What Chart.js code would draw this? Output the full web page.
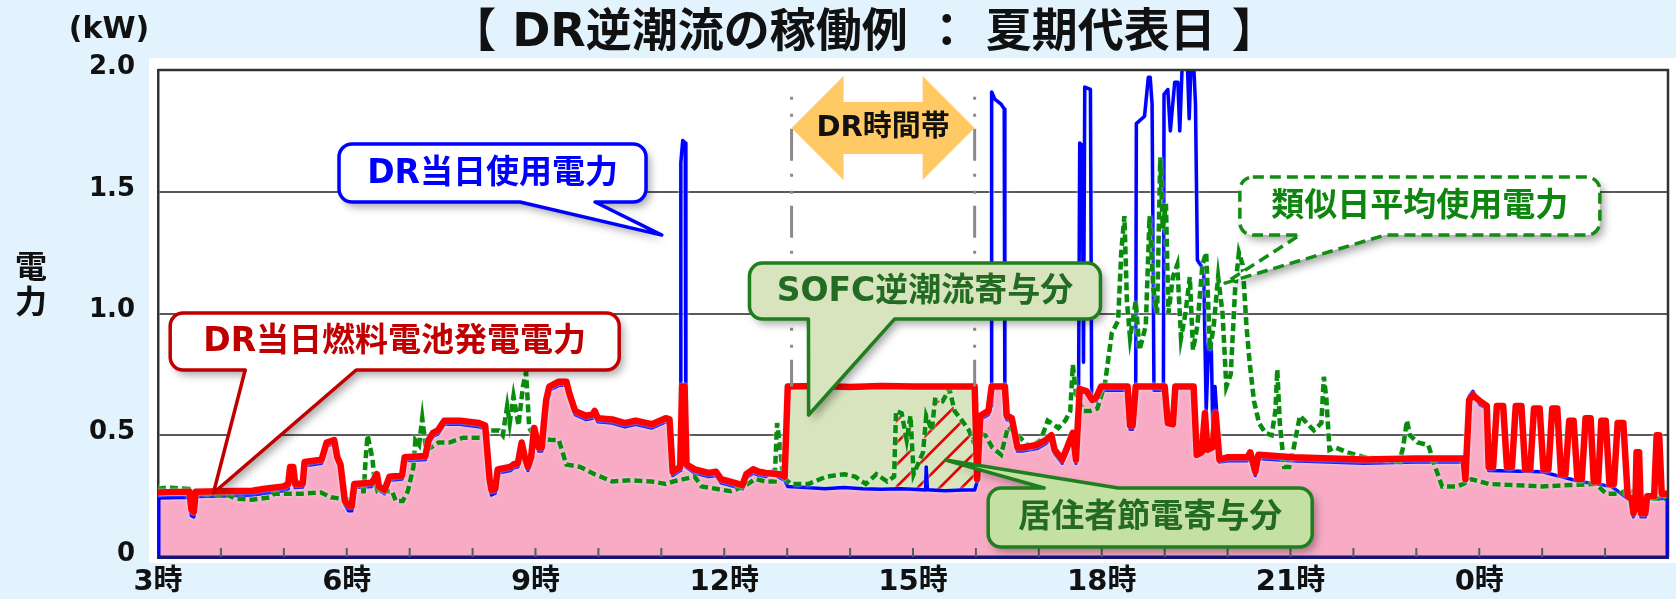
<!DOCTYPE html>
<html><head><meta charset="utf-8">
<script src="https://cdn.jsdelivr.net/npm/chart.js@4.4.1/dist/chart.umd.min.js"></script>
<style>html,body{margin:0;padding:0;background:#e2f3fd;}canvas{display:block;}</style>
</head><body>
<canvas id="c" width="1676" height="599"></canvas>
<script>
const FF = '"DejaVu Sans", "Noto Sans CJK JP", sans-serif';

// ---- data (hour of day, kW); hours after 24 are the following morning ----
const yTickValues = [0, 0.5, 1.0, 1.5, 2.0];
const xRange = [3, 27];
const drLines = [13.07, 15.98];      // DR時間帯 markers
const drFillRange = [13.0, 16.0];    // SOFC逆潮流寄与分
const hatchRange = [14.72, 16.0];    // 居住者節電寄与分

const red = [[3.00,0.265],[3.50,0.268],[3.53,0.195],[3.57,0.186],[3.60,0.268],[4.00,0.27],[4.50,0.272],[4.70,0.28],[5.00,0.29],[5.07,0.30],[5.10,0.37],[5.15,0.37],[5.18,0.30],[5.30,0.302],[5.33,0.39],[5.60,0.40],[5.68,0.47],[5.80,0.48],[5.85,0.41],[5.90,0.38],[5.97,0.23],[6.03,0.21],[6.08,0.21],[6.12,0.30],[6.40,0.305],[6.48,0.34],[6.51,0.29],[6.60,0.275],[6.68,0.33],[6.88,0.335],[6.92,0.41],[7.25,0.415],[7.30,0.48],[7.37,0.51],[7.45,0.52],[7.55,0.56],[7.80,0.56],[8.10,0.55],[8.20,0.54],[8.27,0.32],[8.30,0.275],[8.36,0.28],[8.40,0.36],[8.60,0.37],[8.65,0.38],[8.72,0.385],[8.78,0.47],[8.83,0.41],[8.88,0.37],[8.93,0.41],[8.98,0.53],[9.05,0.45],[9.10,0.45],[9.13,0.54],[9.17,0.645],[9.22,0.70],[9.37,0.72],[9.49,0.72],[9.54,0.67],[9.63,0.60],[9.71,0.59],[9.80,0.58],[9.91,0.585],[9.94,0.60],[9.99,0.57],[10.22,0.565],[10.42,0.55],[10.59,0.56],[10.85,0.545],[11.07,0.57],[11.13,0.565],[11.18,0.35],[11.30,0.37],[11.33,0.70],[11.37,0.70],[11.40,0.38],[11.53,0.36],[11.75,0.345],[11.87,0.35],[11.95,0.32],[12.15,0.305],[12.29,0.295],[12.35,0.34],[12.46,0.36],[12.55,0.35],[12.66,0.345],[12.89,0.34],[12.96,0.33],[13.01,0.70],[13.5,0.702],[14.0,0.698],[14.5,0.702],[15.0,0.70],[15.5,0.70],[15.98,0.70],[16.02,0.32],[16.07,0.58],[16.20,0.60],[16.25,0.70],[16.46,0.70],[16.49,0.58],[16.57,0.57],[16.66,0.45],[16.74,0.45],[16.97,0.46],[17.11,0.48],[17.20,0.50],[17.25,0.44],[17.37,0.40],[17.45,0.45],[17.54,0.51],[17.59,0.40],[17.65,0.69],[17.76,0.68],[17.85,0.645],[17.91,0.655],[17.99,0.70],[18.41,0.70],[18.45,0.54],[18.49,0.54],[18.54,0.70],[19.00,0.70],[19.05,0.55],[19.13,0.545],[19.17,0.70],[19.46,0.70],[19.51,0.42],[19.59,0.43],[19.64,0.59],[19.68,0.44],[19.76,0.45],[19.81,0.59],[19.87,0.40],[20.01,0.41],[20.32,0.41],[20.36,0.43],[20.44,0.35],[20.49,0.42],[21.03,0.41],[22.17,0.40],[23.00,0.405],[23.75,0.405],[23.78,0.32],[23.84,0.645],[23.90,0.665],[24.01,0.64],[24.12,0.62],[24.15,0.37],[24.22,0.37],[24.28,0.62],[24.38,0.62],[24.44,0.37],[24.52,0.37],[24.58,0.62],[24.67,0.62],[24.73,0.36],[24.81,0.36],[24.87,0.61],[24.96,0.61],[25.02,0.36],[25.10,0.36],[25.16,0.61],[25.24,0.61],[25.30,0.34],[25.37,0.34],[25.43,0.56],[25.50,0.56],[25.56,0.32],[25.63,0.32],[25.69,0.57],[25.77,0.57],[25.82,0.31],[25.89,0.31],[25.94,0.56],[26.01,0.56],[26.07,0.30],[26.14,0.30],[26.20,0.55],[26.29,0.55],[26.36,0.25],[26.42,0.24],[26.45,0.18],[26.48,0.20],[26.50,0.43],[26.54,0.43],[26.57,0.18],[26.64,0.18],[26.67,0.25],[26.78,0.25],[26.82,0.50],[26.86,0.50],[26.90,0.26],[27.00,0.26]];

const blue = [[3.00,0.242],[3.50,0.245],[3.53,0.17],[3.57,0.165],[3.60,0.248],[4.00,0.25],[4.50,0.255],[4.70,0.262],[5.00,0.272],[5.07,0.28],[5.10,0.355],[5.15,0.355],[5.18,0.285],[5.30,0.287],[5.33,0.375],[5.60,0.385],[5.68,0.455],[5.80,0.465],[5.85,0.395],[5.90,0.365],[5.97,0.215],[6.03,0.19],[6.08,0.19],[6.12,0.285],[6.40,0.29],[6.48,0.325],[6.51,0.275],[6.60,0.26],[6.68,0.315],[6.88,0.32],[6.92,0.395],[7.25,0.40],[7.30,0.465],[7.37,0.495],[7.45,0.505],[7.55,0.545],[7.80,0.545],[8.10,0.535],[8.20,0.525],[8.27,0.305],[8.30,0.255],[8.36,0.262],[8.40,0.345],[8.60,0.355],[8.65,0.365],[8.72,0.37],[8.78,0.455],[8.83,0.395],[8.88,0.355],[8.93,0.395],[8.98,0.515],[9.05,0.435],[9.10,0.435],[9.13,0.525],[9.17,0.63],[9.22,0.685],[9.37,0.705],[9.49,0.705],[9.54,0.655],[9.63,0.585],[9.71,0.575],[9.80,0.565],[9.91,0.57],[9.94,0.585],[9.99,0.555],[10.22,0.55],[10.42,0.535],[10.59,0.545],[10.85,0.53],[11.07,0.555],[11.13,0.55],[11.18,0.335],[11.30,0.355],[11.31,1.62],[11.34,1.71],[11.38,1.70],[11.39,0.37],[11.53,0.345],[11.75,0.33],[11.87,0.335],[11.95,0.305],[12.15,0.29],[12.29,0.28],[12.35,0.325],[12.46,0.345],[12.55,0.335],[12.66,0.33],[12.80,0.36],[12.85,0.33],[12.89,0.325],[12.96,0.315],[13.01,0.29],[13.30,0.285],[13.60,0.28],[13.90,0.285],[14.20,0.28],[14.50,0.278],[14.80,0.28],[15.00,0.278],[15.20,0.275],[15.21,0.37],[15.23,0.276],[15.50,0.272],[15.80,0.275],[15.98,0.275],[16.02,0.31],[16.07,0.565],[16.20,0.585],[16.24,0.62],[16.25,1.91],[16.30,1.88],[16.40,1.86],[16.45,1.84],[16.46,0.59],[16.49,0.565],[16.57,0.555],[16.66,0.435],[16.74,0.435],[16.97,0.445],[17.11,0.465],[17.20,0.485],[17.25,0.425],[17.37,0.385],[17.45,0.435],[17.54,0.495],[17.59,0.385],[17.63,0.60],[17.65,1.70],[17.69,1.69],[17.71,0.80],[17.73,1.93],[17.82,1.92],[17.84,0.66],[17.91,0.64],[17.99,0.685],[18.41,0.685],[18.45,0.525],[18.49,0.525],[18.54,0.685],[18.55,1.78],[18.68,1.81],[18.74,1.97],[18.77,1.97],[18.80,1.86],[18.83,0.685],[18.98,0.685],[18.99,1.90],[19.05,1.92],[19.09,1.75],[19.16,1.95],[19.21,1.95],[19.24,1.75],[19.28,2.03],[19.36,2.03],[19.39,1.80],[19.42,2.03],[19.46,2.03],[19.49,1.86],[19.52,1.22],[19.62,1.18],[19.66,0.60],[19.70,0.88],[19.74,0.88],[19.77,0.45],[19.80,0.70],[19.83,0.58],[19.87,0.39],[20.01,0.395],[20.32,0.395],[20.36,0.41],[20.44,0.335],[20.49,0.405],[21.03,0.395],[22.17,0.385],[23.00,0.39],[23.75,0.39],[23.78,0.305],[23.84,0.66],[23.90,0.68],[24.01,0.625],[24.12,0.61],[24.15,0.355],[25.00,0.35],[25.30,0.33],[25.60,0.31],[26.10,0.29],[26.36,0.24],[26.42,0.23],[26.45,0.165],[26.48,0.19],[26.50,0.24],[26.54,0.24],[26.57,0.165],[26.64,0.165],[26.67,0.24],[27.00,0.24]];

const green = [[3.00,0.28],[3.15,0.285],[3.49,0.28],[3.55,0.255],[3.66,0.26],[4.11,0.255],[4.23,0.24],[4.50,0.235],[4.79,0.245],[4.85,0.26],[5.30,0.26],[5.59,0.265],[5.75,0.245],[6.04,0.235],[6.10,0.27],[6.27,0.27],[6.30,0.40],[6.33,0.50],[6.38,0.44],[6.41,0.40],[6.44,0.32],[6.49,0.27],[6.72,0.27],[6.78,0.23],[6.89,0.23],[6.97,0.27],[7.06,0.37],[7.09,0.48],[7.15,0.46],[7.20,0.57],[7.26,0.44],[7.34,0.45],[7.46,0.47],[7.63,0.47],[7.85,0.49],[8.19,0.49],[8.25,0.52],[8.42,0.52],[8.48,0.50],[8.55,0.62],[8.59,0.55],[8.65,0.66],[8.73,0.54],[8.80,0.70],[8.85,0.76],[8.90,0.53],[8.99,0.49],[9.27,0.48],[9.37,0.48],[9.43,0.43],[9.49,0.38],[9.71,0.37],[9.94,0.34],[10.22,0.31],[10.51,0.315],[10.85,0.31],[11.07,0.30],[11.19,0.31],[11.53,0.33],[11.64,0.29],[11.87,0.28],[12.10,0.27],[12.32,0.29],[12.49,0.32],[12.66,0.31],[12.80,0.31],[12.84,0.55],[12.89,0.45],[12.93,0.33],[13.06,0.30],[13.34,0.30],[13.62,0.33],[13.91,0.34],[14.08,0.33],[14.25,0.30],[14.42,0.34],[14.59,0.31],[14.70,0.33],[14.73,0.60],[14.82,0.59],[14.90,0.48],[14.96,0.58],[15.01,0.34],[15.16,0.43],[15.21,0.58],[15.30,0.52],[15.35,0.645],[15.47,0.64],[15.58,0.69],[15.66,0.60],[15.78,0.56],[15.89,0.52],[15.95,0.48],[16.03,0.51],[16.15,0.50],[16.26,0.45],[16.40,0.42],[16.51,0.535],[16.63,0.51],[16.74,0.48],[16.86,0.45],[17.03,0.48],[17.14,0.56],[17.31,0.53],[17.42,0.56],[17.50,0.60],[17.54,0.79],[17.59,0.67],[17.71,0.60],[17.82,0.60],[17.93,0.61],[18.05,0.71],[18.16,0.92],[18.26,0.97],[18.31,1.25],[18.36,1.40],[18.40,1.05],[18.45,0.90],[18.54,1.05],[18.60,0.85],[18.70,0.95],[18.76,1.40],[18.82,1.10],[18.88,1.00],[18.93,1.64],[18.97,1.35],[19.02,1.45],[19.06,1.00],[19.13,1.15],[19.20,1.20],[19.26,0.90],[19.33,1.00],[19.40,1.15],[19.45,0.85],[19.52,0.95],[19.60,1.20],[19.66,1.25],[19.72,0.85],[19.78,0.95],[19.85,1.15],[19.92,1.00],[19.98,0.70],[20.05,0.75],[20.12,1.10],[20.18,1.25],[20.24,1.20],[20.30,0.95],[20.35,0.80],[20.42,0.64],[20.50,0.55],[20.60,0.51],[20.70,0.50],[20.76,0.60],[20.79,0.77],[20.83,0.55],[20.90,0.37],[20.98,0.37],[21.03,0.42],[21.15,0.58],[21.26,0.55],[21.37,0.52],[21.49,0.55],[21.53,0.74],[21.57,0.65],[21.62,0.44],[21.71,0.45],[21.90,0.43],[22.17,0.41],[22.50,0.40],[22.73,0.39],[22.79,0.45],[22.85,0.56],[22.90,0.50],[23.02,0.47],[23.19,0.46],[23.30,0.37],[23.41,0.29],[23.64,0.29],[23.75,0.30],[23.87,0.32],[24.15,0.30],[25.00,0.29],[25.85,0.30],[26.02,0.26],[26.25,0.26],[26.36,0.28],[26.59,0.24],[27.00,0.24]];

// annotation texts
const titleText = '【 DR逆潮流の稼働例 ： 夏期代表日 】';
const unitText = '(kW)';
const yAxisTitle = ['電', '力'];
const drLabel = 'DR時間帯';
const callouts = [
  { text: 'DR当日使用電力', at: [8.317, 1.577], w: 307, h: 58, side: 'bottom', a: 181, b: 256, tip: [11.008, 1.322], stroke: '#0000ff', fill: '#ffffff', color: '#0000ff' },
  { text: 'DR当日燃料電池発電電力', at: [6.762, 0.885], w: 449, h: 57, side: 'bottom', a: 75, b: 186, tip: [3.881, 0.263], stroke: '#c00000', fill: '#ffffff', color: '#c00000' },
  { text: 'SOFC逆潮流寄与分', at: [15.19, 1.092], w: 351, h: 56, side: 'bottom', a: 59, b: 145, tip: [13.341, 0.583], stroke: '#1f7f1f', fill: '#d7e4bd', color: '#236b23' },
  { text: '類似日平均使用電力', at: [23.056, 1.441], w: 360, h: 58, side: 'bottom', a: 60, b: 145, tip: [19.96, 1.125], stroke: '#138c13', fill: '#ffffff', color: '#0e850e', dashed: true },
  { text: '居住者節電寄与分', at: [18.77, 0.162], w: 324, h: 59, side: 'top', a: 56, b: 130, tip: [15.516, 0.398], stroke: '#1f7f1f', fill: '#c5e0a3', color: '#236b23' }
];

const PINK = '#f9abc5', SOFC = '#d7e4bd';

function ptsOf(chart, i) { return chart.getDatasetMeta(i).data.map(p => [p.x, p.y]); }
function areaClip(ctx, pts, edgeY) {
  ctx.beginPath();
  ctx.moveTo(pts[0][0], edgeY);
  for (const [x, y] of pts) ctx.lineTo(x, y);
  ctx.lineTo(pts[pts.length - 1][0], edgeY);
  ctx.closePath();
  ctx.clip();
}
function rectClip(ctx, x0, y0, x1, y1) { ctx.beginPath(); ctx.rect(x0, y0, x1 - x0, y1 - y0); ctx.clip(); }

function calloutPath(ctx, L, T, w, h, r, side, a, b, tip) {
  const R = L + w, B = T + h;
  ctx.beginPath();
  ctx.moveTo(L + r, T);
  if (side === 'top') { ctx.lineTo(L + a, T); ctx.lineTo(tip[0], tip[1]); ctx.lineTo(L + b, T); }
  ctx.lineTo(R - r, T); ctx.arcTo(R, T, R, T + r, r);
  ctx.lineTo(R, B - r); ctx.arcTo(R, B, R - r, B, r);
  if (side === 'bottom') { ctx.lineTo(L + b, B); ctx.lineTo(tip[0], tip[1]); ctx.lineTo(L + a, B); }
  ctx.lineTo(L + r, B); ctx.arcTo(L, B, L, B - r, r);
  ctx.lineTo(L, T + r); ctx.arcTo(L, T, L + r, T, r);
  ctx.closePath();
}

const deco = {
  id: 'deco',
  beforeDraw(chart) {
    const { ctx, width, height, chartArea: a } = chart;
    ctx.save();
    ctx.fillStyle = '#e2f3fd'; ctx.fillRect(0, 0, width, height);
    ctx.fillStyle = '#ffffff'; ctx.fillRect(a.left - 9, a.top - 12, width - a.left + 9, a.bottom - a.top + 18);
    ctx.restore();
  },
  beforeDatasetsDraw(chart) {
    const { ctx, chartArea: a, scales: { x } } = chart;
    const R = ptsOf(chart, 0), G = ptsOf(chart, 1), B = ptsOf(chart, 2);
    ctx.save(); rectClip(ctx, a.left, a.top, a.right, a.bottom);
    areaClip(ctx, B, a.bottom); areaClip(ctx, R, a.bottom);
    ctx.fillStyle = PINK; ctx.fillRect(a.left, a.top, a.width, a.height);
    ctx.restore();
    let x0 = x.getPixelForValue(drFillRange[0]), x1 = x.getPixelForValue(drFillRange[1]);
    ctx.save(); rectClip(ctx, x0, a.top, x1, a.bottom);
    areaClip(ctx, R, a.bottom); areaClip(ctx, B, a.top);
    ctx.fillStyle = SOFC; ctx.fillRect(x0, a.top, x1 - x0, a.height);
    ctx.restore();
    x0 = x.getPixelForValue(hatchRange[0]); x1 = x.getPixelForValue(hatchRange[1]);
    ctx.save(); rectClip(ctx, x0, a.top, x1, a.bottom);
    areaClip(ctx, G, a.bottom); areaClip(ctx, B, a.top);
    ctx.strokeStyle = '#e60000'; ctx.lineWidth = 2.6;
    ctx.beginPath();
    for (let k = x0 - a.height; k < x1 + 30; k += 22) { ctx.moveTo(k, a.bottom); ctx.lineTo(k + a.height, a.top); }
    ctx.stroke();
    ctx.restore();
  },
  beforeDatasetDraw(chart) {
    const ctx = chart.ctx;
    ctx.save();
    ctx.shadowColor = 'rgba(225,238,255,0.95)'; ctx.shadowBlur = 3;
  },
  afterDatasetDraw(chart) { chart.ctx.restore(); },
  afterDatasetsDraw(chart) {
    const { ctx, chartArea: a, scales: { x, y } } = chart;
    ctx.save();
    ctx.strokeStyle = '#333'; ctx.lineWidth = 2.5;
    ctx.beginPath(); ctx.moveTo(a.left, a.top); ctx.lineTo(a.right, a.top); ctx.lineTo(a.right, a.bottom); ctx.stroke();
    const B = ptsOf(chart, 2);
    ctx.strokeStyle = '#0000ff'; ctx.lineWidth = 3;
    ctx.beginPath();
    ctx.moveTo(B[0][0] + 1, a.bottom); ctx.lineTo(B[0][0] + 1, B[0][1]);
    ctx.moveTo(B[B.length - 1][0] - 1, a.bottom); ctx.lineTo(B[B.length - 1][0] - 1, B[B.length - 1][1]);
    ctx.stroke();
    ctx.strokeStyle = '#14147a'; ctx.lineWidth = 3;
    ctx.beginPath(); ctx.moveTo(a.left, a.bottom); ctx.lineTo(a.right, a.bottom); ctx.stroke();
    ctx.strokeStyle = '#5a5a6a'; ctx.lineWidth = 2;
    ctx.beginPath();
    for (let h = xRange[0] + 1; h < xRange[1]; h++) { const px = x.getPixelForValue(h); ctx.moveTo(px, a.bottom - 9); ctx.lineTo(px, a.bottom); }
    ctx.stroke();
    const yTop = y.getPixelForValue(1.89), yBot = y.getPixelForValue(0.70);
    ctx.strokeStyle = '#8a8a8a'; ctx.lineWidth = 3; ctx.setLineDash([3, 14, 3, 12, 32, 13]);
    ctx.beginPath();
    for (const h of drLines) { const px = x.getPixelForValue(h); ctx.moveTo(px, yTop); ctx.lineTo(px, yBot); }
    ctx.stroke(); ctx.setLineDash([]);
    const xl = x.getPixelForValue(drLines[0]), xr = x.getPixelForValue(drLines[1]), yc = y.getPixelForValue(1.762);
    const hh = 52, sh = 26, hl = 52;
    ctx.fillStyle = '#ffc966';
    ctx.beginPath();
    ctx.moveTo(xl, yc); ctx.lineTo(xl + hl, yc - hh); ctx.lineTo(xl + hl, yc - sh); ctx.lineTo(xr - hl, yc - sh); ctx.lineTo(xr - hl, yc - hh);
    ctx.lineTo(xr, yc); ctx.lineTo(xr - hl, yc + hh); ctx.lineTo(xr - hl, yc + sh); ctx.lineTo(xl + hl, yc + sh); ctx.lineTo(xl + hl, yc + hh);
    ctx.closePath(); ctx.fill();
    ctx.fillStyle = '#111'; ctx.font = 'bold 29px ' + FF; ctx.textAlign = 'center'; ctx.textBaseline = 'middle';
    ctx.fillText(drLabel, (xl + xr) / 2, yc + 1);
    for (const c of callouts) {
      const cx = x.getPixelForValue(c.at[0]), cy = y.getPixelForValue(c.at[1]);
      const L = cx - c.w / 2, T = cy - c.h / 2;
      const tip = [x.getPixelForValue(c.tip[0]), y.getPixelForValue(c.tip[1])];
      calloutPath(ctx, L, T, c.w, c.h, 13, c.side, c.a, c.b, tip);
      ctx.save();
      ctx.shadowColor = 'rgba(0,0,0,0.35)'; ctx.shadowBlur = 8; ctx.shadowOffsetX = 4; ctx.shadowOffsetY = 5;
      ctx.fillStyle = c.fill; ctx.fill();
      ctx.restore();
      ctx.strokeStyle = c.stroke; ctx.lineWidth = 3.5; ctx.lineJoin = 'round';
      ctx.setLineDash(c.dashed ? [11, 6] : []);
      ctx.stroke(); ctx.setLineDash([]);
      ctx.fillStyle = c.color; ctx.font = 'bold 33px ' + FF; ctx.textAlign = 'center'; ctx.textBaseline = 'middle';
      ctx.fillText(c.text, cx, cy + 1);
    }
    ctx.restore();
  },
  afterDraw(chart) {
    const { ctx } = chart;
    ctx.save();
    ctx.fillStyle = '#111'; ctx.textAlign = 'center'; ctx.textBaseline = 'middle';
    ctx.font = 'bold 46px ' + FF; ctx.fillText(titleText, 864, 34);
    ctx.font = 'bold 30px ' + FF; ctx.fillText(unitText, 109, 30);
    ctx.font = 'bold 32px ' + FF;
    ctx.fillText(yAxisTitle[0], 31, 270); ctx.fillText(yAxisTitle[1], 31, 305);
    ctx.restore();
  }
};

const toXY = arr => arr.map(([x, y]) => ({ x, y }));

new Chart(document.getElementById('c'), {
  type: 'line',
  data: {
    datasets: [
      { label: 'DR当日燃料電池発電電力', data: toXY(red), borderColor: '#ff0000', borderWidth: 6.5, pointRadius: 0, fill: false, borderJoinStyle: 'round', borderCapStyle: 'round' },
      { label: '類似日平均使用電力', data: toXY(green), borderColor: '#0a8c0a', borderWidth: 4.5, borderDash: [8, 4], pointRadius: 0, fill: false },
      { label: 'DR当日使用電力', data: toXY(blue), borderColor: '#0000ff', borderWidth: 3.5, pointRadius: 0, fill: false, borderJoinStyle: 'round' }
    ]
  },
  options: {
    responsive: false, animation: false, devicePixelRatio: 1,
    layout: { padding: { top: 70, right: 6, left: 0, bottom: 0 } },
    plugins: { legend: { display: false }, tooltip: { enabled: false }, title: { display: false } },
    scales: {
      x: {
        type: 'linear', min: xRange[0], max: xRange[1],
        afterFit: s => { s.height = 42; },
        grid: { display: false, drawTicks: false },
        border: { display: true, color: '#14147a', width: 3 },
        ticks: { stepSize: 1, autoSkip: false, maxRotation: 0, padding: 8, color: '#111',
          font: { family: FF, size: 29, weight: 'bold' },
          callback: v => (v % 3 === 0 && v < xRange[1]) ? (v % 24) + '時' : '' }
      },
      y: {
        min: yTickValues[0], max: yTickValues[yTickValues.length - 1],
        afterFit: s => { s.width = 158; },
        grid: { color: '#5a5a5a', lineWidth: 2, drawTicks: false },
        border: { display: true, color: '#333', width: 2.5 },
        ticks: { stepSize: 0.5, padding: 23, labelOffset: -3, color: '#111',
          font: { family: FF, size: 26, weight: 'bold' },
          callback: v => v === 0 ? '0' : v.toFixed(1) }
      }
    }
  },
  plugins: [deco]
});
</script>
</body></html>
